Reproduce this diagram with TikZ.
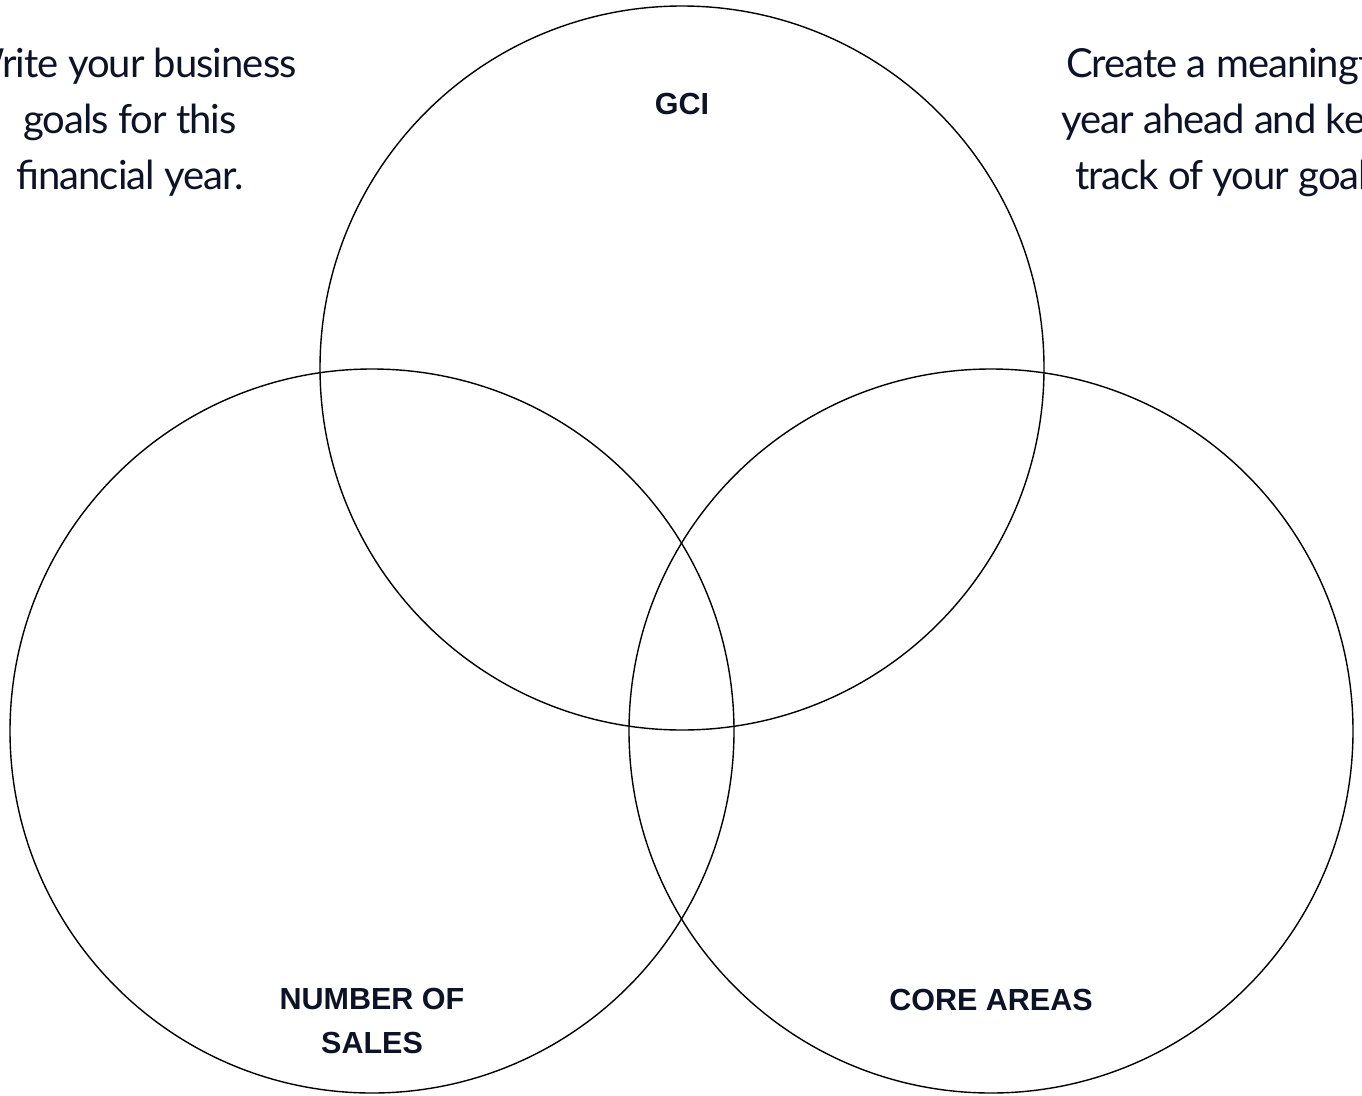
\documentclass[tikz,border=0pt]{standalone}
\usepackage{fontspec}
\setmainfont{Liberation Sans}
\newfontfamily\notefont[LetterSpace=-2.5]{Lato}
\definecolor{ink}{HTML}{0D1326}
\begin{document}
\begin{tikzpicture}[x=1pt,y=-1pt,
  ring/.style={draw=black,line width=1.4pt,circle,minimum size=724pt,inner sep=0pt},
  heading/.style={text=ink,font=\fontsize{30.5}{44}\selectfont\bfseries,align=center,inner sep=0pt},
  note/.style={text=ink,font=\notefont\fontsize{40}{56}\selectfont,align=center,inner sep=0pt}]
  \useasboundingbox (0,0) rectangle (1362,1095);
  \clip (0,0) rectangle (1362,1095);
  % three overlapping rings
  \node[ring] (top) at (682,368) {};
  \node[ring] (left) at (372,731) {};
  \node[ring] (right) at (991,731) {};
  % ring titles
  \node[heading,anchor=base] (gci) at (682,114) {GCI};
  \node[heading,anchor=north] (sales) at (372,988) {NUMBER OF\\SALES};
  \node[heading,anchor=base] (core) at (991,1010) {CORE AREAS};
  % side notes
  \node[note,anchor=north] (leftnote) at (130,48) {Write your business\\goals for this\\financial year.};
  \node[note,anchor=north] (rightnote) at (1234,48) {Create a meaningful\\year ahead and keep\\track of your goals.};
\end{tikzpicture}
\end{document}
